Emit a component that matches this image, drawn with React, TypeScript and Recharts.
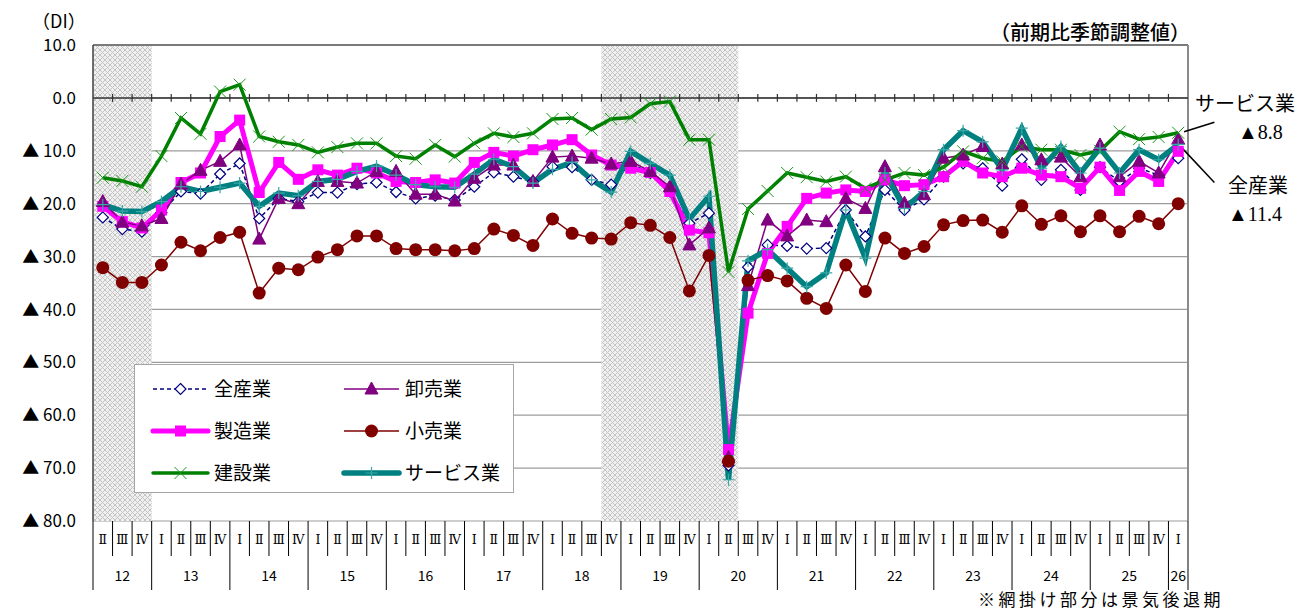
import React from "react";
import {
  CartesianGrid,
  Line,
  LineChart,
  ReferenceArea,
  ReferenceLine,
  XAxis,
  YAxis,
} from "recharts";

// 2012 II 〜 2026 I
const YEARS = ["12", "13", "14", "15", "16", "17", "18", "19", "20", "21", "22", "23", "24", "25", "26"];
const QUARTER_NAMES = ["Ⅰ", "Ⅱ", "Ⅲ", "Ⅳ"];
const FIRST_QUARTER = 1; // 12年はⅡから
const LAST_QUARTER = 0; // 26年はⅠまで

const Y_TICKS = [10, 0, -10, -20, -30, -40, -50, -60, -70, -80];

// 景気後退期（網掛け）: 開始・終了のインデックス
const RECESSIONS: [number, number][] = [
  [0, 2],
  [26, 32],
];

const ALL = [
  -22.6, -24.8, -25.3, -21.7, -17.7, -18.1, -14.4, -12.4, -22.8, -19.0, -19.6, -17.9, -17.9, -16.3,
  -16.0, -17.8, -19.0, -18.5, -19.3, -16.8, -14.1, -14.9, -15.8, -13.0, -13.1, -15.5, -16.4, -12.4,
  -14.2, -17.7, -23.7, -21.8, -69.5, -32.0, -27.8, -28.0, -28.5, -28.4, -21.2, -26.2, -17.4, -21.2,
  -19.2, -14.9, -12.4, -13.3, -16.6, -11.6, -15.5, -13.6, -17.4, -13.1, -15.8, -13.3, -14.6, -11.4,
];
const MFG = [
  -20.5, -23.4, -24.6, -21.2, -16.0, -14.2, -7.3, -4.2, -17.9, -12.2, -15.4, -13.6, -14.6, -13.3,
  -14.2, -15.8, -16.0, -15.5, -16.1, -12.2, -10.3, -11.0, -9.8, -8.9, -7.9, -10.8, -12.7, -13.3,
  -14.1, -17.7, -25.0, -25.5, -66.5, -40.7, -29.4, -24.3, -19.0, -18.0, -17.4, -17.7, -15.5, -16.6,
  -16.4, -14.9, -12.0, -14.2, -14.9, -13.3, -14.6, -14.9, -17.1, -13.1, -17.5, -13.9, -15.8, -10.1,
];
const WHOLESALE = [
  -19.6, -23.5, -24.2, -22.8, -16.3, -13.7, -12.0, -8.9, -26.7, -19.0, -20.0, -15.8, -15.8, -16.1,
  -13.9, -13.9, -18.2, -18.2, -19.5, -15.2, -12.7, -12.7, -15.8, -11.2, -11.0, -11.4, -12.5, -12.0,
  -13.9, -16.8, -27.8, -24.6, -68.0, -35.5, -23.1, -26.1, -23.1, -23.4, -19.0, -20.9, -13.0, -19.9,
  -18.3, -11.4, -10.8, -9.2, -12.5, -8.9, -11.7, -11.2, -14.9, -8.9, -14.9, -12.0, -14.2, -7.8,
];
const RETAIL = [
  -32.1, -34.9, -34.9, -31.6, -27.3, -28.9, -26.4, -25.4, -36.9, -32.2, -32.5, -30.1, -28.7, -26.1,
  -26.1, -28.5, -28.7, -28.7, -28.9, -28.5, -24.8, -26.0, -27.9, -22.9, -25.6, -26.5, -26.7, -23.6,
  -24.1, -26.4, -36.5, -29.8, -68.7, -34.5, -33.6, -34.6, -37.9, -39.8, -31.6, -36.6, -26.5, -29.4,
  -28.1, -24.0, -23.2, -23.1, -25.4, -20.4, -23.9, -22.3, -25.3, -22.3, -25.3, -22.4, -23.8, -20.0,
];
const CONSTRUCTION = [
  -15.1, -15.7, -16.8, -11.0, -3.8, -6.8, 1.2, 2.5, -7.3, -8.3, -8.9, -10.3, -9.3, -8.6,
  -8.6, -11.0, -11.5, -8.9, -11.1, -8.6, -6.7, -7.4, -6.7, -4.0, -3.8, -6.0, -4.0, -3.7,
  -1.1, -0.7, -7.9, -7.9, -32.9, -21.0, -17.6, -14.2, -15.0, -15.8, -14.9, -17.1, -15.5, -14.2,
  -14.6, -13.1, -10.1, -11.4, -12.0, -9.2, -9.8, -9.8, -10.8, -10.0, -6.4, -7.8, -7.4, -6.6,
];
const SERVICE = [
  -20.2, -21.4, -21.5, -19.6, -16.8, -17.7, -16.9, -16.1, -20.5, -18.0, -18.5, -15.8, -15.4, -13.9,
  -12.9, -14.6, -16.4, -16.8, -16.9, -14.4, -11.6, -13.0, -16.1, -13.5, -12.2, -15.5, -17.8, -10.1,
  -12.4, -14.6, -22.9, -18.6, -72.2, -30.8, -28.7, -32.2, -35.7, -33.1, -21.2, -30.3, -14.2, -20.9,
  -17.7, -9.8, -6.2, -8.3, -13.6, -5.7, -13.3, -9.2, -14.2, -9.5, -14.2, -9.8, -11.7, -8.8,
];

type Cat = { i: number; q: string; year: string; first: boolean; span: number };

const CATS: Cat[] = [];
YEARS.forEach((year, yi) => {
  const from = yi === 0 ? FIRST_QUARTER : 0;
  const to = yi === YEARS.length - 1 ? LAST_QUARTER : 3;
  for (let q = from; q <= to; q++) {
    CATS.push({ i: CATS.length, q: QUARTER_NAMES[q], year, first: q === from, span: to - from + 1 });
  }
});

const data = CATS.map((c) => ({
  i: c.i,
  all: ALL[c.i],
  mfg: MFG[c.i],
  wholesale: WHOLESALE[c.i],
  retail: RETAIL[c.i],
  construction: CONSTRUCTION[c.i],
  service: SERVICE[c.i],
}));

const W = 1312;
const H = 611;
const PLOT_LEFT = 93;
const PLOT_RIGHT = 1188;
const UNIT = (PLOT_RIGHT - PLOT_LEFT) / CATS.length;

const SANS = "'Noto Sans CJK JP', 'Noto Sans', sans-serif";
const SERIF = "'Liberation Serif', 'DejaVu Serif', 'Noto Sans CJK JP', serif";

type MarkerKind = "diamond" | "triangle" | "square" | "circle" | "x" | "plus";

function Marker({ kind, cx, cy }: { kind: MarkerKind; cx: number; cy: number }) {
  if (cx == null || cy == null) return null;
  switch (kind) {
    case "diamond":
      return (
        <path
          d={`M${cx},${cy - 5.5} L${cx + 5.5},${cy} L${cx},${cy + 5.5} L${cx - 5.5},${cy} Z`}
          fill="#ffffff"
          stroke="#000080"
          strokeWidth={1.2}
        />
      );
    case "triangle":
      return (
        <path
          d={`M${cx},${cy - 7} L${cx + 6.5},${cy + 5} L${cx - 6.5},${cy + 5} Z`}
          fill="#800080"
          stroke="#800080"
        />
      );
    case "square":
      return <rect x={cx - 5.5} y={cy - 5.5} width={11} height={11} fill="#ff00ff" />;
    case "circle":
      return <circle cx={cx} cy={cy} r={6.5} fill="#800000" />;
    case "x":
      return (
        <path
          d={`M${cx - 6},${cy - 6} L${cx + 6},${cy + 6} M${cx - 6},${cy + 6} L${cx + 6},${cy - 6}`}
          stroke="#1a9a1a"
          strokeWidth={1}
          fill="none"
        />
      );
    case "plus":
      return (
        <path
          d={`M${cx - 6},${cy} L${cx + 6},${cy} M${cx},${cy - 6} L${cx},${cy + 6}`}
          stroke="#3aa8a8"
          strokeWidth={1.2}
          fill="none"
        />
      );
  }
  return null;
}

const dotOf = (kind: MarkerKind) => (p: any) =>
  <Marker key={`${kind}-${p.index}`} kind={kind} cx={p.cx} cy={p.cy} />;

function YTick({ x, y, payload }: any) {
  const v = payload.value as number;
  const label = v < 0 ? `▲ ${(-v).toFixed(1)}` : v.toFixed(1);
  return (
    <text x={x - 17} y={y} dy="0.36em" textAnchor="end" fontFamily={SANS} fontSize={17} fill="#000">
      {label}
    </text>
  );
}

function QuarterTick({ x, y, payload }: any) {
  const c = CATS[payload.value];
  if (!c) return null;
  const left = x - UNIT / 2;
  const right = x + UNIT / 2;
  const isLast = c.i === CATS.length - 1;
  return (
    <g>
      <line x1={left} y1={y} x2={left} y2={c.first ? y + 69 : y + 35} stroke="#000" strokeWidth={1} />
      {isLast ? <line x1={right} y1={y} x2={right} y2={y + 69} stroke="#000" strokeWidth={1} /> : null}
      <text x={x} y={y + 23} textAnchor="middle" fontFamily="'DejaVu Serif', serif" fontSize={12.5} fill="#000">
        {c.q}
      </text>
      {c.first ? (
        <text
          x={x + ((c.span - 1) / 2) * UNIT}
          y={y + 60}
          textAnchor="middle"
          fontFamily={SANS}
          fontSize={14}
          fill="#000"
        >
          {c.year}
        </text>
      ) : null}
    </g>
  );
}

const LEGEND: { name: string; color: string; width: number; dash?: string; kind: MarkerKind }[] = [
  { name: "全産業", color: "#000080", width: 1.5, dash: "4 3", kind: "diamond" },
  { name: "卸売業", color: "#800080", width: 1.5, kind: "triangle" },
  { name: "製造業", color: "#ff00ff", width: 5, kind: "square" },
  { name: "小売業", color: "#800000", width: 1.5, kind: "circle" },
  { name: "建設業", color: "#008000", width: 3.5, kind: "x" },
  { name: "サービス業", color: "#008080", width: 5.5, kind: "plus" },
];

function LegendBox() {
  return (
    <div
      style={{
        position: "absolute",
        left: 134,
        top: 364,
        width: 378,
        height: 127,
        background: "#fff",
        border: "1px solid #a6a6a6",
      }}
    >
      <svg width={378} height={127}>
        {LEGEND.map((s, k) => {
          const col = k % 2;
          const row = Math.floor(k / 2);
          const x0 = col === 0 ? 18 : 209;
          const y0 = 24 + row * 42;
          return (
            <g key={s.name}>
              <line
                x1={x0}
                y1={y0}
                x2={x0 + 55}
                y2={y0}
                stroke={s.color}
                strokeWidth={s.width}
                strokeDasharray={s.dash}
                strokeLinecap={s.width > 3 ? "round" : "butt"}
              />
              <Marker kind={s.kind} cx={x0 + 27.5} cy={y0} />
              <text x={x0 + 61} y={y0} dy="0.36em" fontFamily={SANS} fontSize={19} fill="#000">
                {s.name}
              </text>
            </g>
          );
        })}
      </svg>
    </div>
  );
}

const boundaries = CATS.slice(1).map((c) => c.i - 0.5);

const note = (left: number, top: number, size: number, font: string, extra: React.CSSProperties = {}) =>
  ({ position: "absolute", left, top, fontFamily: font, fontSize: size, lineHeight: `${size}px`, whiteSpace: "nowrap", ...extra } as React.CSSProperties);

export default function App() {
  return (
    <div style={{ position: "absolute", left: 0, top: 0, width: W, height: H, background: "#fff", overflow: "hidden" }}>
      <LineChart width={W} height={H} data={data} margin={{ top: 45, right: W - PLOT_RIGHT, bottom: 20, left: 0 }}>
        <defs>
          <pattern id="hatch" width="5" height="5" patternUnits="userSpaceOnUse">
            <rect width="5" height="5" fill="#f0f0f0" />
            <path d="M0,0 L5,5 M5,0 L0,5" stroke="#c4c4c4" strokeWidth={1} />
          </pattern>
        </defs>
        <CartesianGrid vertical={false} stroke="#9c9c9c" strokeWidth={1.2} />
        <XAxis
          dataKey="i"
          type="number"
          domain={[-0.5, CATS.length - 0.5]}
          ticks={CATS.map((c) => c.i)}
          interval={0}
          allowDataOverflow
          axisLine={false}
          tickLine={false}
          tickSize={0}
          tickMargin={0}
          height={70}
          tick={<QuarterTick />}
        />
        <YAxis
          type="number"
          domain={[-80, 10]}
          ticks={Y_TICKS}
          interval={0}
          width={PLOT_LEFT}
          axisLine={{ stroke: "#404040", strokeWidth: 1.5 }}
          tickLine={false}
          tickSize={0}
          tickMargin={0}
          tick={<YTick />}
        />
        {RECESSIONS.map(([a, b]) => (
          <ReferenceArea
            key={a}
            x1={a - 0.5}
            x2={b + 0.5}
            y1={-80}
            y2={10}
            fill="url(#hatch)"
            fillOpacity={1}
            stroke="none"
          />
        ))}
        <ReferenceLine y={10} stroke="#7a7a7a" strokeWidth={2} />
        <ReferenceLine x={CATS.length - 0.5} stroke="#8a8a8a" strokeWidth={2} />
        <ReferenceLine y={0} stroke="#303030" strokeWidth={1.5} />
        {boundaries.map((b) => (
          <ReferenceLine
            key={`t${b}`}
            segment={[
              { x: b, y: 0.75 },
              { x: b, y: -0.75 },
            ]}
            stroke="#303030"
            strokeWidth={1.2}
          />
        ))}
        <ReferenceLine
          segment={[
            { x: 55.3, y: -6.4 },
            { x: 56.85, y: -4.6 },
          ]}
          stroke="#000"
          strokeWidth={1.5}
          ifOverflow="visible"
        />
        <ReferenceLine
          segment={[
            { x: 55.2, y: -9.5 },
            { x: 56.85, y: -16.0 },
          ]}
          stroke="#000"
          strokeWidth={1.5}
          ifOverflow="visible"
        />
        <Line
          dataKey="all"
          stroke="#000080"
          strokeWidth={1.5}
          strokeDasharray="4 3"
          dot={dotOf("diamond")}
          activeDot={false}
          isAnimationActive={false}
        />
        <Line
          dataKey="mfg"
          stroke="#ff00ff"
          strokeWidth={5}
          dot={dotOf("square")}
          activeDot={false}
          isAnimationActive={false}
        />
        <Line
          dataKey="wholesale"
          stroke="#800080"
          strokeWidth={1.5}
          dot={dotOf("triangle")}
          activeDot={false}
          isAnimationActive={false}
        />
        <Line
          dataKey="retail"
          stroke="#800000"
          strokeWidth={1.5}
          dot={dotOf("circle")}
          activeDot={false}
          isAnimationActive={false}
        />
        <Line
          dataKey="construction"
          stroke="#008000"
          strokeWidth={3.5}
          dot={dotOf("x")}
          activeDot={false}
          isAnimationActive={false}
        />
        <Line
          dataKey="service"
          stroke="#008080"
          strokeWidth={5.5}
          dot={dotOf("plus")}
          activeDot={false}
          isAnimationActive={false}
        />
      </LineChart>

      <div style={note(32, 11, 18, SANS)}>（DI）</div>
      <div style={note(990, 22, 20, SANS, { fontWeight: 500 })}>（前期比季節調整値）</div>
      <div style={note(1195, 94, 20, SERIF)}>サービス業</div>
      <div style={note(1238, 122, 20, SERIF)}>▲8.8</div>
      <div style={note(1228, 176, 20, SERIF)}>全産業</div>
      <div style={note(1228, 204, 20, SERIF)}>▲11.4</div>
      <div style={note(978, 590, 17, SANS, { letterSpacing: 3.5 })}>※網掛け部分は景気後退期</div>
      <LegendBox />
    </div>
  );
}
